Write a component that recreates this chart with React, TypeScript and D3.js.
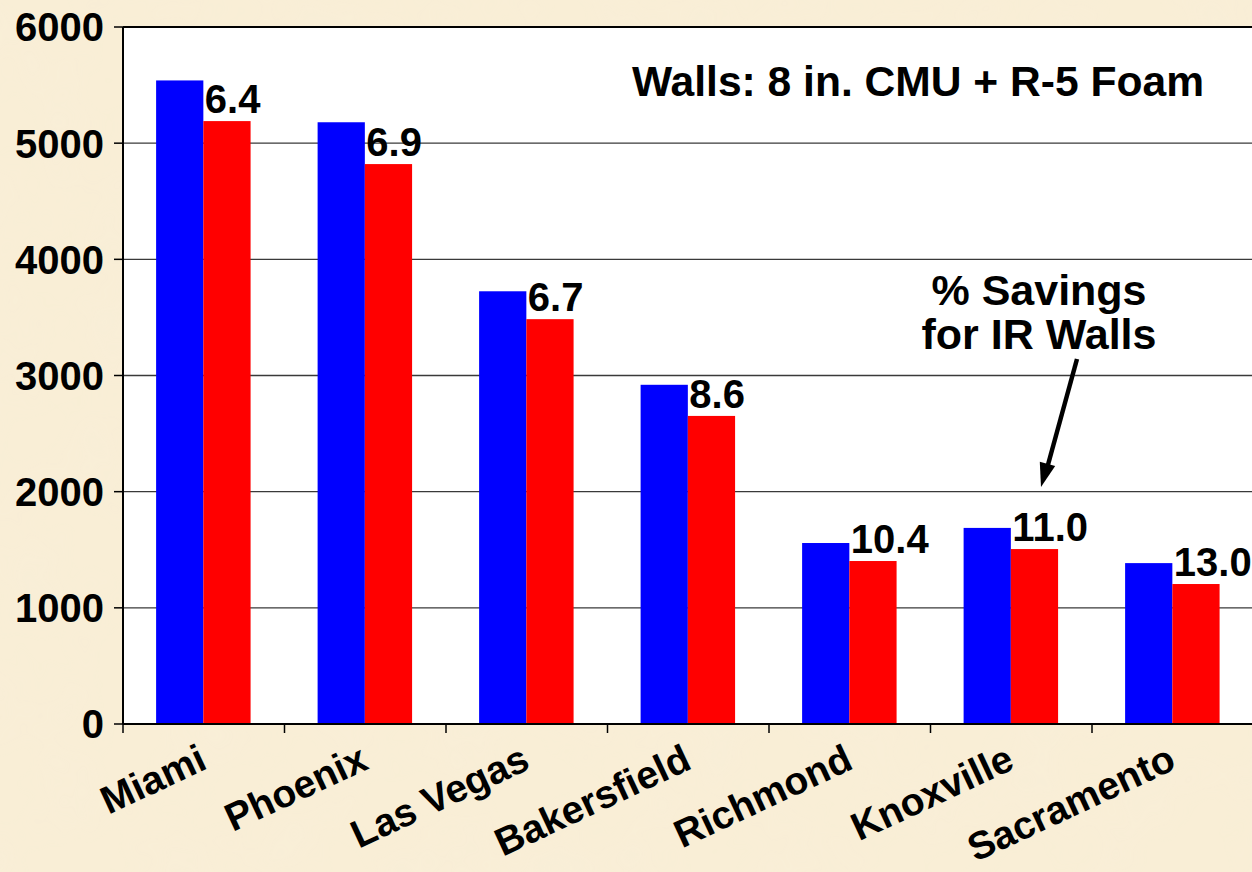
import React from "react";
import * as d3 from "d3";

const categories = ["Miami", "Phoenix", "Las Vegas", "Bakersfield", "Richmond", "Knoxville", "Sacramento"];
const baseValues = [5540, 5180, 3725, 2920, 1558, 1688, 1385];
const irValues = [5190, 4820, 3485, 2652, 1403, 1506, 1205];
const savingsLabels = ["6.4", "6.9", "6.7", "8.6", "10.4", "11.0", "13.0"];
const yTicks = [0, 1000, 2000, 3000, 4000, 5000, 6000];
const seriesKeys = ["base", "ir"];
const seriesColors = ["#0000ff", "#ff0000"];
const titleText = "Walls: 8 in. CMU + R-5 Foam";
const annotationLines = ["% Savings", "for IR Walls"];

const W = 1252;
const H = 872;
const FONT = "'Liberation Sans', Arial, Helvetica, sans-serif";

export default function App() {
  const left = 123;
  const right = 1253.5;
  const top = 27;
  const bottom = 724;

  const x = d3.scaleBand<string>().domain(categories).range([left, right]).padding(0);
  const bw = x.bandwidth();
  const x1 = d3.scaleBand<string>().domain(seriesKeys).range([bw * 0.205, bw * 0.79]).padding(0);
  const y = d3.scaleLinear().domain([0, 6000]).range([bottom, top]);

  const boundaries = categories.map((c) => x(c) as number).concat([right]);

  const rows = categories.map((c, i) => ({ c, vals: [baseValues[i], irValues[i]], label: savingsLabels[i] }));

  return (
    <svg
      width={W}
      height={H}
      style={{ position: "fixed", left: 0, top: 0, display: "block" }}
      fontFamily={FONT}
    >
      <defs>
        <filter id="parch" x="0" y="0" width="100%" height="100%">
          <feTurbulence type="fractalNoise" baseFrequency="0.012" numOctaves="3" seed="7" result="n" />
          <feColorMatrix
            in="n"
            type="matrix"
            values="0 0 0 0 0.93  0 0 0 0 0.86  0 0 0 0 0.70  0 0 0 -1.6 1.0"
          />
        </filter>
      </defs>
      <rect x={0} y={0} width={W} height={H} fill="#f9eed6" />
      <rect x={0} y={0} width={W} height={H} filter="url(#parch)" opacity={0.35} />

      {/* plot area */}
      <rect x={left} y={top} width={right - left} height={bottom - top} fill="#ffffff" />

      {/* gridlines */}
      {yTicks.filter((t) => t > 0 && t < 6000).map((t) => (
        <line key={t} x1={left} x2={right} y1={y(t)} y2={y(t)} stroke="#3a3a3a" strokeWidth={1.3} />
      ))}

      {/* bars */}
      {rows.map((r) => (
        <g key={r.c} transform={`translate(${x(r.c)},0)`}>
          {r.vals.map((v, j) => (
            <rect
              key={j}
              x={x1(seriesKeys[j]) as number}
              y={y(v)}
              width={x1.bandwidth()}
              height={y(0) - y(v)}
              fill={seriesColors[j]}
            />
          ))}
          <text
            x={(x1("ir") as number) + 1.5}
            y={y(r.vals[1]) - 8}
            fontSize={40}
            fontWeight="bold"
            fill="#000"
          >
            {r.label}
          </text>
        </g>
      ))}

      {/* plot border top */}
      <line x1={left} x2={right} y1={top} y2={top} stroke="#000" strokeWidth={2} />

      {/* y axis */}
      <line x1={left} x2={left} y1={top} y2={bottom} stroke="#000" strokeWidth={2} />
      {yTicks.map((t) => (
        <g key={t}>
          <line x1={left - 9} x2={left} y1={y(t)} y2={y(t)} stroke="#000" strokeWidth={1.5} />
          <text
            x={104}
            y={y(t)}
            dy="0.36em"
            textAnchor="end"
            fontSize={40}
            fontWeight="bold"
            fill="#000"
          >
            {t}
          </text>
        </g>
      ))}

      {/* x axis */}
      <line x1={left} x2={right} y1={bottom} y2={bottom} stroke="#000" strokeWidth={2} />
      {boundaries.map((b, i) => (
        <line key={i} x1={b} x2={b} y1={bottom} y2={bottom + 9} stroke="#000" strokeWidth={1.5} />
      ))}
      {categories.map((c) => (
        <text
          key={c}
          transform={`translate(${(x(c) as number) + bw / 2 + 5},768) rotate(-25)`}
          textAnchor="end"
          fontSize={39}
          fontWeight="bold"
          fill="#000"
        >
          {c}
        </text>
      ))}

      {/* title */}
      <text x={632} y={96} fontSize={43} fontWeight="bold" fill="#000" textLength={572} lengthAdjust="spacingAndGlyphs">
        {titleText}
      </text>

      {/* annotation */}
      {annotationLines.map((l, i) => (
        <text key={i} x={1039} y={305 + i * 44} textAnchor="middle" fontSize={43} fontWeight="bold" fill="#000">
          {l}
        </text>
      ))}
      <line x1={1077} y1={359} x2={1046} y2={472} stroke="#000" strokeWidth={4.5} />
      <path
        d={(() => {
          const tip = [1041, 487];
          const ang = Math.atan2(487 - 359, 1041 - 1077);
          const len = 24;
          const half = 8;
          const bx = tip[0] - len * Math.cos(ang);
          const by = tip[1] - len * Math.sin(ang);
          const px = -Math.sin(ang) * half;
          const py = Math.cos(ang) * half;
          return `M${tip[0]},${tip[1]} L${bx + px},${by + py} L${bx - px},${by - py} Z`;
        })()}
        fill="#000"
      />
    </svg>
  );
}
